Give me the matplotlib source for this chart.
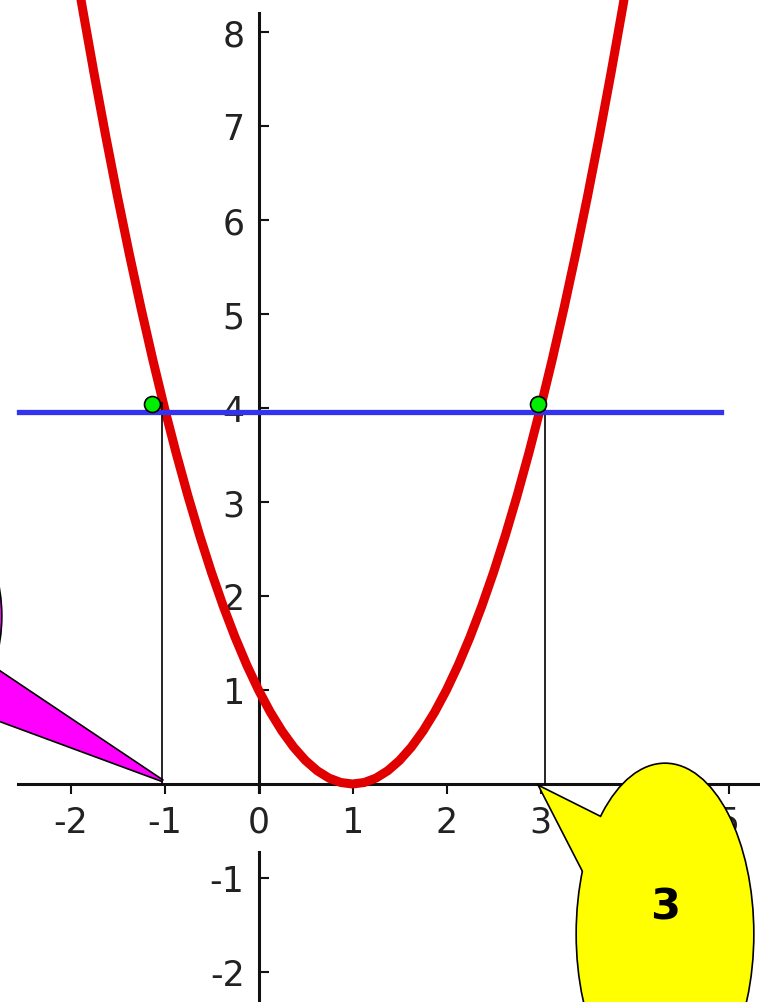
import matplotlib
matplotlib.use("Agg")
import matplotlib.pyplot as plt
from matplotlib.patches import Ellipse, Polygon

plt.rcParams['axes.unicode_minus'] = False

# parabola at eighth steps
curve_x = [-2.0, -1.875, -1.75, -1.625, -1.5, -1.375, -1.25, -1.125,
           -1.0, -0.875, -0.75, -0.625, -0.5, -0.375, -0.25, -0.125,
           0.0, 0.125, 0.25, 0.375, 0.5, 0.625, 0.75, 0.875,
           1.0, 1.125, 1.25, 1.375, 1.5, 1.625, 1.75, 1.875,
           2.0, 2.125, 2.25, 2.375, 2.5, 2.625, 2.75, 2.875,
           3.0, 3.125, 3.25, 3.375, 3.5, 3.625, 3.75, 3.875, 4.0]
curve_y = [9.0, 8.266, 7.563, 6.891, 6.25, 5.641, 5.063, 4.516,
           4.0, 3.516, 3.063, 2.641, 2.25, 1.891, 1.563, 1.266,
           1.0, 0.766, 0.563, 0.391, 0.25, 0.141, 0.063, 0.016,
           0.0, 0.016, 0.063, 0.141, 0.25, 0.391, 0.563, 0.766,
           1.0, 1.266, 1.563, 1.891, 2.25, 2.641, 3.063, 3.516,
           4.0, 4.516, 5.063, 5.641, 6.25, 6.891, 7.563, 8.266, 9.0]

hline_x = [-2.55, 4.92]
hline_y = [3.96, 3.96]

points_x = [-1.13, 2.97]
points_y = [4.04, 4.04]

drop_x = [-1.03, 3.05]
drop_top = 4.05

xticks = [-2, -1, 0, 1, 2, 3, 4, 5]
yticks = [-2, -1, 1, 2, 3, 4, 5, 6, 7, 8]
callout_text = "3"

# pixel -> data helpers (94 px per unit, origin at 258.5, 785)
def px(x):
    return (x - 258.5) / 94.0

def py(y):
    return (785 - y) / 94.0

fig = plt.figure(figsize=(7.6, 10.03), dpi=100)
ax = fig.add_axes([0, 0, 1, 1])
ax.set_xlim(px(0), px(760))
ax.set_ylim(py(1003), py(0))

for s in ['top', 'right']:
    ax.spines[s].set_visible(False)
ax.spines['left'].set_position(('data', 0))
ax.spines['bottom'].set_position(('data', 0))
ax.spines['left'].set_bounds(py(793), py(14))
ax.spines['bottom'].set_bounds(px(18), px(765))
for s in ['left', 'bottom']:
    ax.spines[s].set_linewidth(2.2)
    ax.spines[s].set_color('#111111')
# lower piece of the y axis (gap around the 0 label)
ax.plot([0, 0], [py(853), py(1010)], color='#111111', lw=2.2, zorder=2.5)

ax.set_xticks(xticks)
ax.set_xticklabels([str(t) for t in xticks])
ax.set_yticks(yticks)
ax.set_yticklabels([str(t) for t in yticks])
ax.tick_params(axis='x', direction='out', length=7, width=1.5, color='#111111',
               pad=8, labelsize=25, labelcolor='#222222')
ax.tick_params(axis='y', direction='in', length=7, width=1.5, color='#111111',
               pad=10, labelsize=25, labelcolor='#222222')

ax.plot(curve_x, curve_y, color='#e00000', lw=6.5, zorder=3,
        solid_capstyle='round', solid_joinstyle='round')
ax.plot(hline_x, hline_y, color='#3333ee', lw=3.8, zorder=4)
for x in drop_x:
    ax.plot([x, x], [0, drop_top], color='black', lw=1.2, zorder=3.5)
ax.plot(points_x, points_y, 'o', ms=11.5, mfc='#00ee00', mec='black', mew=1.2, zorder=5)

def callout(center, w, h, wedge, color):
    # union outline: thick edges below, plain fills above
    e1 = Ellipse(center, w, h, fc=color, ec='black', lw=2.4, zorder=6)
    p1 = Polygon(wedge, closed=True, fc=color, ec='black', lw=2.4, zorder=6)
    e2 = Ellipse(center, w, h, fc=color, ec='none', zorder=7)
    p2 = Polygon(wedge, closed=True, fc=color, ec='none', zorder=7)
    for p in (e1, p1, e2, p2):
        ax.add_patch(p)

# magenta callout, mostly off the left edge
callout((px(-89), py(617)), 180 / 94, 240 / 94,
        [(px(163), py(782)), (px(-40), py(646)), (px(-40), py(707))], '#ff00ff')

# yellow callout at x = 3
callout((px(665), py(935)), 176 / 94, 340 / 94,
        [(px(540), py(788)), (px(624), py(830)), (px(595), py(895))], '#ffff00')
ax.text(px(665), py(908), callout_text, ha='center', va='center', fontsize=31,
        fontweight='bold', color='black', zorder=8)

fig.savefig('out.png', dpi=100, facecolor='white')
